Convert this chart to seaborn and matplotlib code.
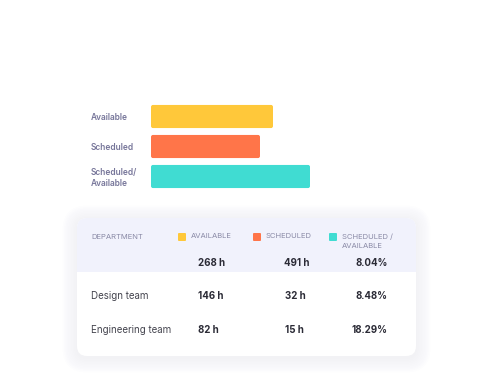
import matplotlib
matplotlib.use("Agg")
import matplotlib.pyplot as plt
import seaborn as sns
import pandas as pd
from matplotlib.patches import FancyBboxPatch, Rectangle

# bar block (lengths, arbitrary units)
bar_labels = ["Available", "Scheduled", "Scheduled/\nAvailable"]
bar_values = [122, 109, 159]
bar_colors = ["#FFC83A", "#FF7549", "#40DCD2"]

# table
col_headers = ["AVAILABLE", "SCHEDULED", "SCHEDULED /\nAVAILABLE"]
totals = ["268 h", "491 h", "8.04%"]
departments = ["Design team", "Engineering team"]
available_h = [146, 82]
scheduled_h = [32, 15]
ratio_pct = [8.48, 18.29]

sns.set_theme(style="white")
plt.rcParams["font.family"] = ["Inter", "DejaVu Sans"]

fig = plt.figure(figsize=(5, 3.75), dpi=100)
fig.patch.set_facecolor("white")

# background axes in pixel coordinates for the card
bg = fig.add_axes([0, 0, 1, 1])
bg.set_xlim(0, 500)
bg.set_ylim(375, 0)
bg.axis("off")

# soft shadow
for i in range(10):
    grow = 1 + i * 1.5
    bg.add_patch(FancyBboxPatch((77 - grow, 218 - grow + 2), 339 + 2 * grow, 138 + 2 * grow,
                                boxstyle="round,pad=0,rounding_size=%g" % (10 + grow),
                                fc="#7a7aa0", ec="none", alpha=0.008))
bg.add_patch(FancyBboxPatch((77, 218), 339, 138, boxstyle="round,pad=0,rounding_size=10",
                            fc="white", ec="none"))
# header band
bg.add_patch(FancyBboxPatch((77, 218), 339, 54, boxstyle="round,pad=0,rounding_size=10",
                            fc="#F1F2FC", ec="none"))
bg.add_patch(Rectangle((77, 250), 339, 22, fc="#F1F2FC", ec="none"))

head_color = "#8A8AA6"
bg.text(91, 237, "DEPARTMENT", fontsize=5.5, color=head_color, va="center")
sq_x = [178, 253, 329]
for x, h, c in zip(sq_x, col_headers, bar_colors):
    bg.add_patch(FancyBboxPatch((x, 233), 8, 8, boxstyle="round,pad=0,rounding_size=1",
                                fc=c, ec="none"))
    bg.text(x + 13, 233, h, fontsize=5.5, color=head_color, va="top", linespacing=1.6)

dark = "#2B2B36"
col_x = [198, 284]
bg.text(col_x[0], 263, totals[0], fontsize=7, weight="bold", color=dark, va="center")
bg.text(col_x[1], 263, totals[1], fontsize=7, weight="bold", color=dark, va="center")
bg.text(388, 263, totals[2], fontsize=7, weight="bold", color=dark, va="center", ha="right")

row_y = [296, 330]
for y, d, a, s, r in zip(row_y, departments, available_h, scheduled_h, ratio_pct):
    bg.text(91, y, d, fontsize=7, color="#44444E", va="center")
    bg.text(col_x[0], y, f"{a} h", fontsize=7, weight="bold", color=dark, va="center")
    bg.text(col_x[1] + 1, y, f"{s} h", fontsize=7, weight="bold", color=dark, va="center")
    bg.text(388, y, f"{r:.2f}%", fontsize=7, weight="bold", color=dark, va="center", ha="right")

# bar chart
ax = fig.add_axes([151 / 500, 1 - 191.5 / 375, 159 / 500, 90 / 375])
df = pd.DataFrame({"label": bar_labels, "value": bar_values})
sns.barplot(data=df, x="value", y="label", hue="label", palette=bar_colors,
            width=0.77, legend=False, ax=ax, saturation=1)
ax.set_xlim(0, 159)
ax.set_ylim(2.5, -0.5)

# swap the square bars for slightly rounded ones (1 y-unit = 30 px)
for p in list(ax.patches):
    x0, y0, w, h = p.get_x(), p.get_y(), p.get_width(), p.get_height()
    ax.add_patch(FancyBboxPatch((x0, y0), w, h, boxstyle="round,pad=0,rounding_size=2",
                                mutation_aspect=1 / 30, fc=p.get_facecolor(), ec="none"))
    p.remove()

ax.set_xlabel("")
ax.set_ylabel("")
ax.set_xticks([])
ax.patch.set_alpha(0)
for sp in ax.spines.values():
    sp.set_visible(False)
ax.tick_params(axis="y", length=0, pad=43.2)
for lbl in ax.get_yticklabels():
    lbl.set_ha("left")
    lbl.set_multialignment("left")
    lbl.set_fontsize(6)
    lbl.set_fontweight("semibold")
    lbl.set_color("#77769A")

fig.savefig("out.png", dpi=100)
